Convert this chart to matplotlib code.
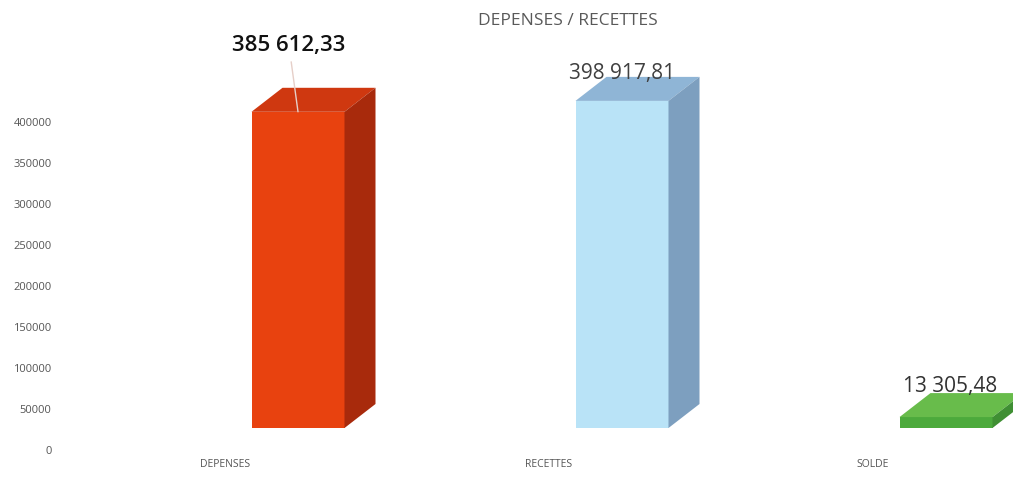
import matplotlib
matplotlib.use('Agg')
import matplotlib.pyplot as plt
from matplotlib.patches import Polygon
from matplotlib.transforms import ScaledTranslation

# data
categories = ['DEPENSES', 'RECETTES', 'SOLDE']
values = [385612.33, 398917.81, 13305.48]
value_labels = ['385 612,33', '398 917,81', '13 305,48']
yticks = [0, 50000, 100000, 150000, 200000, 250000, 300000, 350000, 400000]

front_colors = ['#e8420f', '#b9e3f7', '#4caa3c']
top_colors = ['#cf3810', '#8fb5d6', '#68bc4b']
side_colors = ['#a82a0c', '#7d9fbf', '#3f8f33']

W, H = 1013, 494
AX_LEFT = 85          # px from left
AX_ZERO = 428         # px from top where value 0 sits
Y_PX = 0.00082        # px per unit
X_STEP = 324          # px between categories
X_FIRST = 298         # px of first bar centre
YMAX = 485000

plt.rcParams['font.family'] = ['Open Sans', 'DejaVu Sans']

fig = plt.figure(figsize=(W / 100, H / 100), dpi=100)
ax = fig.add_axes([AX_LEFT / W, (H - AX_ZERO) / H, (W - AX_LEFT) / W,
                   YMAX * Y_PX / H])
ax.set_xlim(-(X_FIRST - AX_LEFT) / X_STEP, (W - X_FIRST) / X_STEP)
ax.set_ylim(0, YMAX)

bar_w = 93 / X_STEP
dx = 31 / X_STEP
dy = 24 / Y_PX

bars = ax.bar(range(len(values)), values, width=bar_w, color=front_colors,
              clip_on=False, zorder=2)
for b, top, side in zip(bars, top_colors, side_colors):
    x0, x1, v = b.get_x(), b.get_x() + b.get_width(), b.get_height()
    ax.add_patch(Polygon([(x0, v), (x1, v), (x1 + dx, v + dy), (x0 + dx, v + dy)],
                         closed=True, fc=top, ec='none', clip_on=False, zorder=2))
    ax.add_patch(Polygon([(x1, 0), (x1 + dx, dy), (x1 + dx, v + dy), (x1, v)],
                         closed=True, fc=side, ec='none', clip_on=False, zorder=2))

for s in ax.spines.values():
    s.set_visible(False)

ax.set_yticks(yticks)
ax.set_yticklabels([str(t) for t in yticks])
ax.tick_params(axis='y', length=0, pad=24, labelsize=8, labelcolor='#555555')
shift_y = ScaledTranslation(0, -22 / 100, fig.dpi_scale_trans)
for lab in ax.get_yticklabels():
    lab.set_transform(lab.get_transform() + shift_y)

ax.set_xticks(range(len(categories)))
ax.set_xticklabels(categories)
ax.tick_params(axis='x', length=0, pad=22, labelsize=7.5, labelcolor='#555555')
shift_x = ScaledTranslation(-73 / 100, 0, fig.dpi_scale_trans)
for lab in ax.get_xticklabels():
    lab.set_transform(lab.get_transform() + shift_x)

fig.text(568 / W, 1 - 21 / H, 'DEPENSES / RECETTES', ha='center', va='center',
         fontsize=12.5, color='#595959')

# value labels
ax.annotate(value_labels[0], xy=(0, values[0]), xytext=(-9, 66),
            textcoords='offset pixels', ha='center', va='center',
            fontsize=16, fontweight='semibold', color='#111111',
            arrowprops=dict(arrowstyle='-', color='#e6cfc8', lw=1,
                            shrinkA=2, shrinkB=0))
ax.annotate(value_labels[1], xy=(1, values[1]), xytext=(0, 27),
            textcoords='offset pixels', ha='center', va='center',
            fontsize=15, color='#404040')
ax.annotate(value_labels[2], xy=(2, values[2]), xytext=(4, 31),
            textcoords='offset pixels', ha='center', va='center',
            fontsize=15, color='#333333')

fig.savefig('out.png', dpi=100)
